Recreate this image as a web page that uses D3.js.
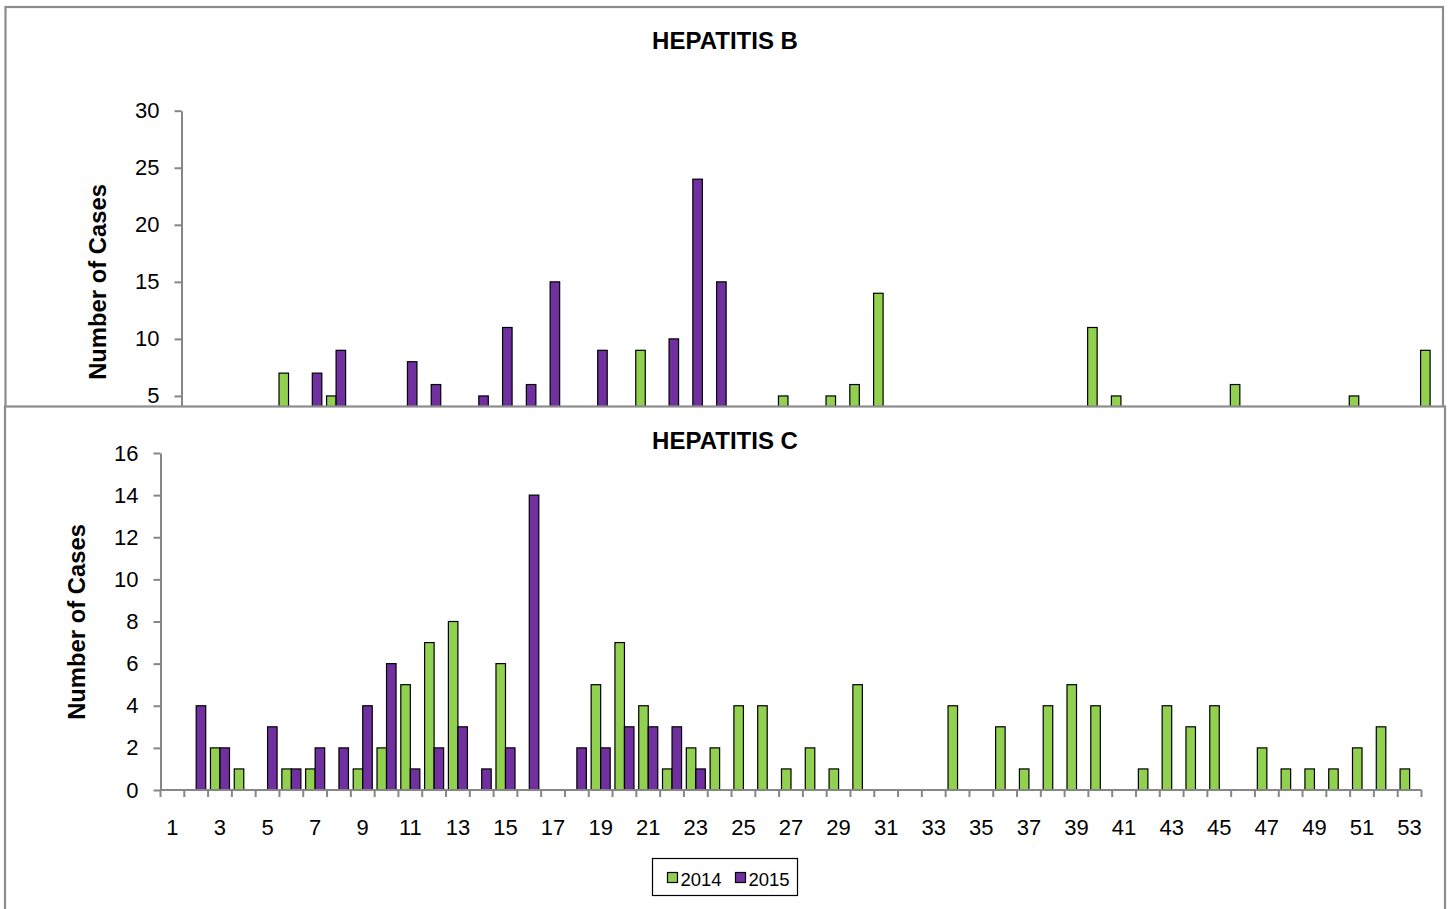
<!DOCTYPE html>
<html>
<head>
<meta charset="utf-8">
<script src="https://cdn.jsdelivr.net/npm/d3@7"></script>
<style>
  body { margin: 0; background: #fff; }
  svg { display: block; font-family: Arial, "Liberation Sans", sans-serif; }
</style>
</head>
<body>
<svg id="chart" width="1450" height="909"></svg>
<script>
// week numbers along the x axis
var weeks = [1,2,3,4,5,6,7,8,9,10,11,12,13,14,15,16,17,18,19,20,21,22,23,24,25,26,27,
             28,29,30,31,32,33,34,35,36,37,38,39,40,41,42,43,44,45,46,47,48,49,50,51,52,53];
var years = ["2014", "2015"];

// Hepatitis B cases per week (lower part of this panel is covered in the original)
var hepB2014 = [0,0,0,0,7,0,5,0,0,0, 0,0,0,0,0,0,0,0,0,9, 0,0,0,0,0,5,0,5,6,14,
                0,0,0,0,0,0,0,0,11,5, 0,0,0,0,6,0,0,0,0,5, 0,0,9];
var hepB2015 = [0,0,0,0,0,7,9,0,0,8, 6,0,5,11,6,15,0,9,0,0, 10,24,15,0,0,0,0,0,0,0,
                0,0,0,0,0,0,0,0,0,0, 0,0,0,0,0,0,0,0,0,0, 0,0,0];

// Hepatitis C cases per week
var hepC2014 = [0,0,2,1,0,1,1,0,1,2, 5,7,8,0,6,0,0,0,5,7, 4,1,2,2,4,4,1,2,1,5,
                0,0,0,4,0,3,1,4,5,4, 0,1,4,3,4,0,2,1,1,1, 2,3,1];
var hepC2015 = [0,4,2,0,3,1,2,2,4,6, 1,2,3,1,2,14,0,2,2,3, 3,3,1,0,0,0,0,0,0,0,
                0,0,0,0,0,0,0,0,0,0, 0,0,0,0,0,0,0,0,0,0, 0,0,0];

var hepBTicks = [0, 5, 10, 15, 20, 25, 30];
var hepCTicks = [0, 2, 4, 6, 8, 10, 12, 14, 16];
var weekLabels = [1,3,5,7,9,11,13,15,17,19,21,23,25,27,29,31,33,35,37,39,41,43,45,47,49,51,53];

var colors = { "2014": "#92d050", "2015": "#7030a0" };
var axisGrey = "#868686";
var borderGrey = "#8c8c8c";

var svg = d3.select("#chart");

function drawPanel(opt) {
  var g = svg.append("g");

  // panel frame (white so the next panel covers the one before)
  g.append("rect")
    .attr("x", opt.box[0]).attr("y", opt.box[1])
    .attr("width", opt.box[2]).attr("height", opt.box[3])
    .attr("fill", "#fff")
    .attr("stroke", borderGrey)
    .attr("stroke-width", 2.2);

  var x = d3.scaleBand().domain(weeks).range(opt.xRange).padding(0);
  var sub = d3.scaleBand().domain(years)
    .range([x.bandwidth() * 0.1, x.bandwidth() * 0.9]).padding(0);
  var y = d3.scaleLinear().domain(opt.yDomain).range(opt.yRange);

  var rows = weeks.map(function(w, i) {
    return { week: w, "2014": opt.s2014[i], "2015": opt.s2015[i] };
  });

  // bars
  var groups = g.selectAll(".wk")
    .data(rows)
    .enter().append("g")
    .attr("transform", function(d) { return "translate(" + x(d.week) + ",0)"; });

  groups.selectAll("rect")
    .data(function(d) {
      return years.filter(function(k) { return d[k] > 0; })
                  .map(function(k) { return { key: k, value: d[k] }; });
    })
    .enter().append("rect")
    .attr("x", function(d) { return sub(d.key); })
    .attr("width", sub.bandwidth())
    .attr("y", function(d) { return y(d.value); })
    .attr("height", function(d) { return y(0) - y(d.value); })
    .attr("fill", function(d) { return colors[d.key]; })
    .attr("stroke", "#000")
    .attr("stroke-width", 1.2);

  // y axis
  var yAxis = g.append("g")
    .attr("transform", "translate(" + opt.xRange[0] + ",0)")
    .call(d3.axisLeft(y).tickValues(opt.yTicks).tickSize(7).tickSizeOuter(0).tickPadding(opt.yPad));
  yAxis.select(".domain").attr("stroke", axisGrey).attr("stroke-width", 2);
  yAxis.selectAll(".tick line").attr("stroke", axisGrey).attr("stroke-width", 2);
  yAxis.selectAll(".tick text").attr("font-size", 22).attr("fill", "#000")
    .attr("font-family", "Arial, 'Liberation Sans', sans-serif");

  // x axis: ticks between weeks, labels on odd weeks
  var xAxisG = g.append("g").attr("transform", "translate(0," + y(0) + ")");
  xAxisG.append("line")
    .attr("x1", opt.xRange[0]).attr("x2", opt.xRange[1])
    .attr("stroke", axisGrey).attr("stroke-width", 2);
  var bounds = weeks.map(function(w) { return x(w); }).concat([opt.xRange[1]]);
  xAxisG.selectAll(".xt")
    .data(bounds)
    .enter().append("line")
    .attr("x1", function(d) { return d; }).attr("x2", function(d) { return d; })
    .attr("y1", 0).attr("y2", 7)
    .attr("stroke", axisGrey).attr("stroke-width", 2);
  if (opt.showWeekLabels) {
    xAxisG.selectAll(".xl")
      .data(weekLabels)
      .enter().append("text")
      .attr("x", function(d) { return x(d) + x.bandwidth() / 2; })
      .attr("y", 45)
      .attr("text-anchor", "middle")
      .attr("font-size", 22)
      .text(function(d) { return d; });
  }

  // title
  g.append("text")
    .attr("x", 725).attr("y", opt.titleY)
    .attr("text-anchor", "middle")
    .attr("font-weight", "bold")
    .attr("font-size", 24)
    .text(opt.title);

  // y axis title
  g.append("text")
    .attr("transform", "translate(" + opt.yTitle[0] + "," + opt.yTitle[1] + ") rotate(-90)")
    .attr("text-anchor", "middle")
    .attr("font-weight", "bold")
    .attr("font-size", 23.8)
    .text("Number of Cases");
}

drawPanel({
  box: [5.5, 7, 1437.5, 460],
  xRange: [181.5, 1442],
  yDomain: [0, 30], yRange: [453, 110.7],
  yTicks: hepBTicks, yPad: 15,
  s2014: hepB2014, s2015: hepB2015,
  title: "HEPATITIS B", titleY: 49,
  yTitle: [106, 282],
  showWeekLabels: false
});

drawPanel({
  box: [5, 406.5, 1440, 520],
  xRange: [160.5, 1421.5],
  yDomain: [0, 16], yRange: [790, 453],
  yTicks: hepCTicks, yPad: 15,
  s2014: hepC2014, s2015: hepC2015,
  title: "HEPATITIS C", titleY: 449,
  yTitle: [85, 622],
  showWeekLabels: true
});

// legend
var legend = svg.append("g").attr("transform", "translate(652.5,858.5)");
legend.append("rect")
  .attr("width", 145).attr("height", 37)
  .attr("fill", "#fff").attr("stroke", "#000").attr("stroke-width", 1.2);
var items = legend.selectAll(".li")
  .data(years)
  .enter().append("g")
  .attr("transform", function(d, i) { return "translate(" + (15 + i * 68) + ",0)"; });
items.append("rect")
  .attr("y", 14).attr("width", 10).attr("height", 10)
  .attr("fill", function(d) { return colors[d]; })
  .attr("stroke", "#000").attr("stroke-width", 1.2);
items.append("text")
  .attr("x", 13).attr("y", 27)
  .attr("font-size", 18.5)
  .text(function(d) { return d; });
</script>
</body>
</html>
